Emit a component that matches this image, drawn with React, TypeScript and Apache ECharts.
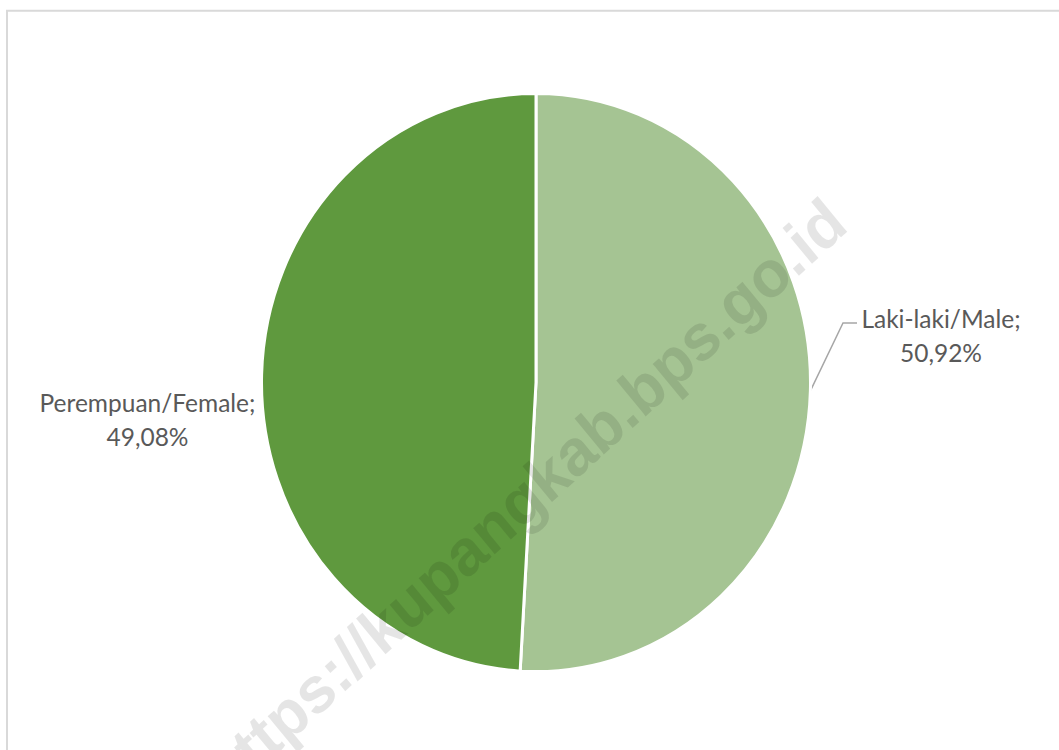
import React, { useEffect, useRef } from 'react';
import * as echarts from 'echarts';

const categories = ['Laki-laki/Male', 'Perempuan/Female'];
const values = [50.92, 49.08];
const colors = ['#a5c493', '#5f993e'];
const watermark = 'https://kupangkab.bps.go.id';

const SY = 1.0535;
const W = 1059;
const H = Math.round(750 / SY);

export default function App() {
  const ref = useRef<HTMLDivElement>(null);
  useEffect(() => {
    if (!ref.current) return;
    const chart = echarts.init(ref.current, null, { renderer: 'svg', width: W, height: H });
    const fmt = (v: number) => v.toFixed(2).replace('.', ',') + '%';
    chart.setOption({
      animation: false,
      backgroundColor: '#ffffff',
      graphic: [
        {
          type: 'rect',
          shape: { x: 7, y: 10.2, width: 1100, height: 800 },
          style: { fill: 'none', stroke: '#d9d9d9', lineWidth: 2 },
          z: 0,
          silent: true,
        },
        {
          type: 'text',
          x: 524,
          y: 497 / SY,
          rotation: (41 * Math.PI) / 180,
          z: 100,
          silent: true,
          style: {
            text: watermark,
            fontFamily: 'Liberation Sans',
            fontWeight: 'bold',
            fontSize: 62,
            fill: 'rgba(0,0,0,0.1)',
            textAlign: 'center',
            textVerticalAlign: 'middle',
          },
        },
      ],
      series: [
        {
          type: 'pie',
          center: [536, 382.5 / SY],
          radius: 274.5,
          startAngle: 90,
          clockwise: true,
          avoidLabelOverlap: false,
          silent: true,
          data: categories.map((name, i) => ({
            name,
            value: values[i],
            itemStyle: { color: colors[i] },
            labelLine: { show: i === 0 },
          })),
          itemStyle: { borderColor: '#ffffff', borderWidth: 3 },
          label: {
            show: true,
            position: 'outside',
            formatter: (p: any) => `${p.name};\n${fmt(p.value)}`,
            fontFamily: 'Lato',
            fontSize: 24.5,
            color: '#595959',
            lineHeight: 32,
            align: 'center',
          },
          labelLine: {
            show: true,
            length: 20,
            length2: 15,
            lineStyle: { color: '#a6a6a6', width: 1.5 },
          },
          labelLayout: (p: any) => {
            if (p.dataIndex === 0) {
              const start =
                p.labelLinePoints && p.labelLinePoints[0]
                  ? p.labelLinePoints[0]
                  : [811, 391 / SY];
              return {
                x: 941,
                y: 335 / SY,
                align: 'center',
                verticalAlign: 'middle',
                labelLinePoints: [start, [843, 323 / SY], [857, 323 / SY]],
              };
            }
            return {
              x: 147.5,
              y: 419 / SY,
              align: 'center',
              verticalAlign: 'middle',
            };
          },
        },
      ],
    });
    return () => chart.dispose();
  }, []);
  return (
    <div
      ref={ref}
      style={{
        position: 'absolute',
        left: 0,
        top: 0,
        width: W,
        height: H,
        transform: `scaleY(${SY})`,
        transformOrigin: '0 0',
      }}
    />
  );
}
